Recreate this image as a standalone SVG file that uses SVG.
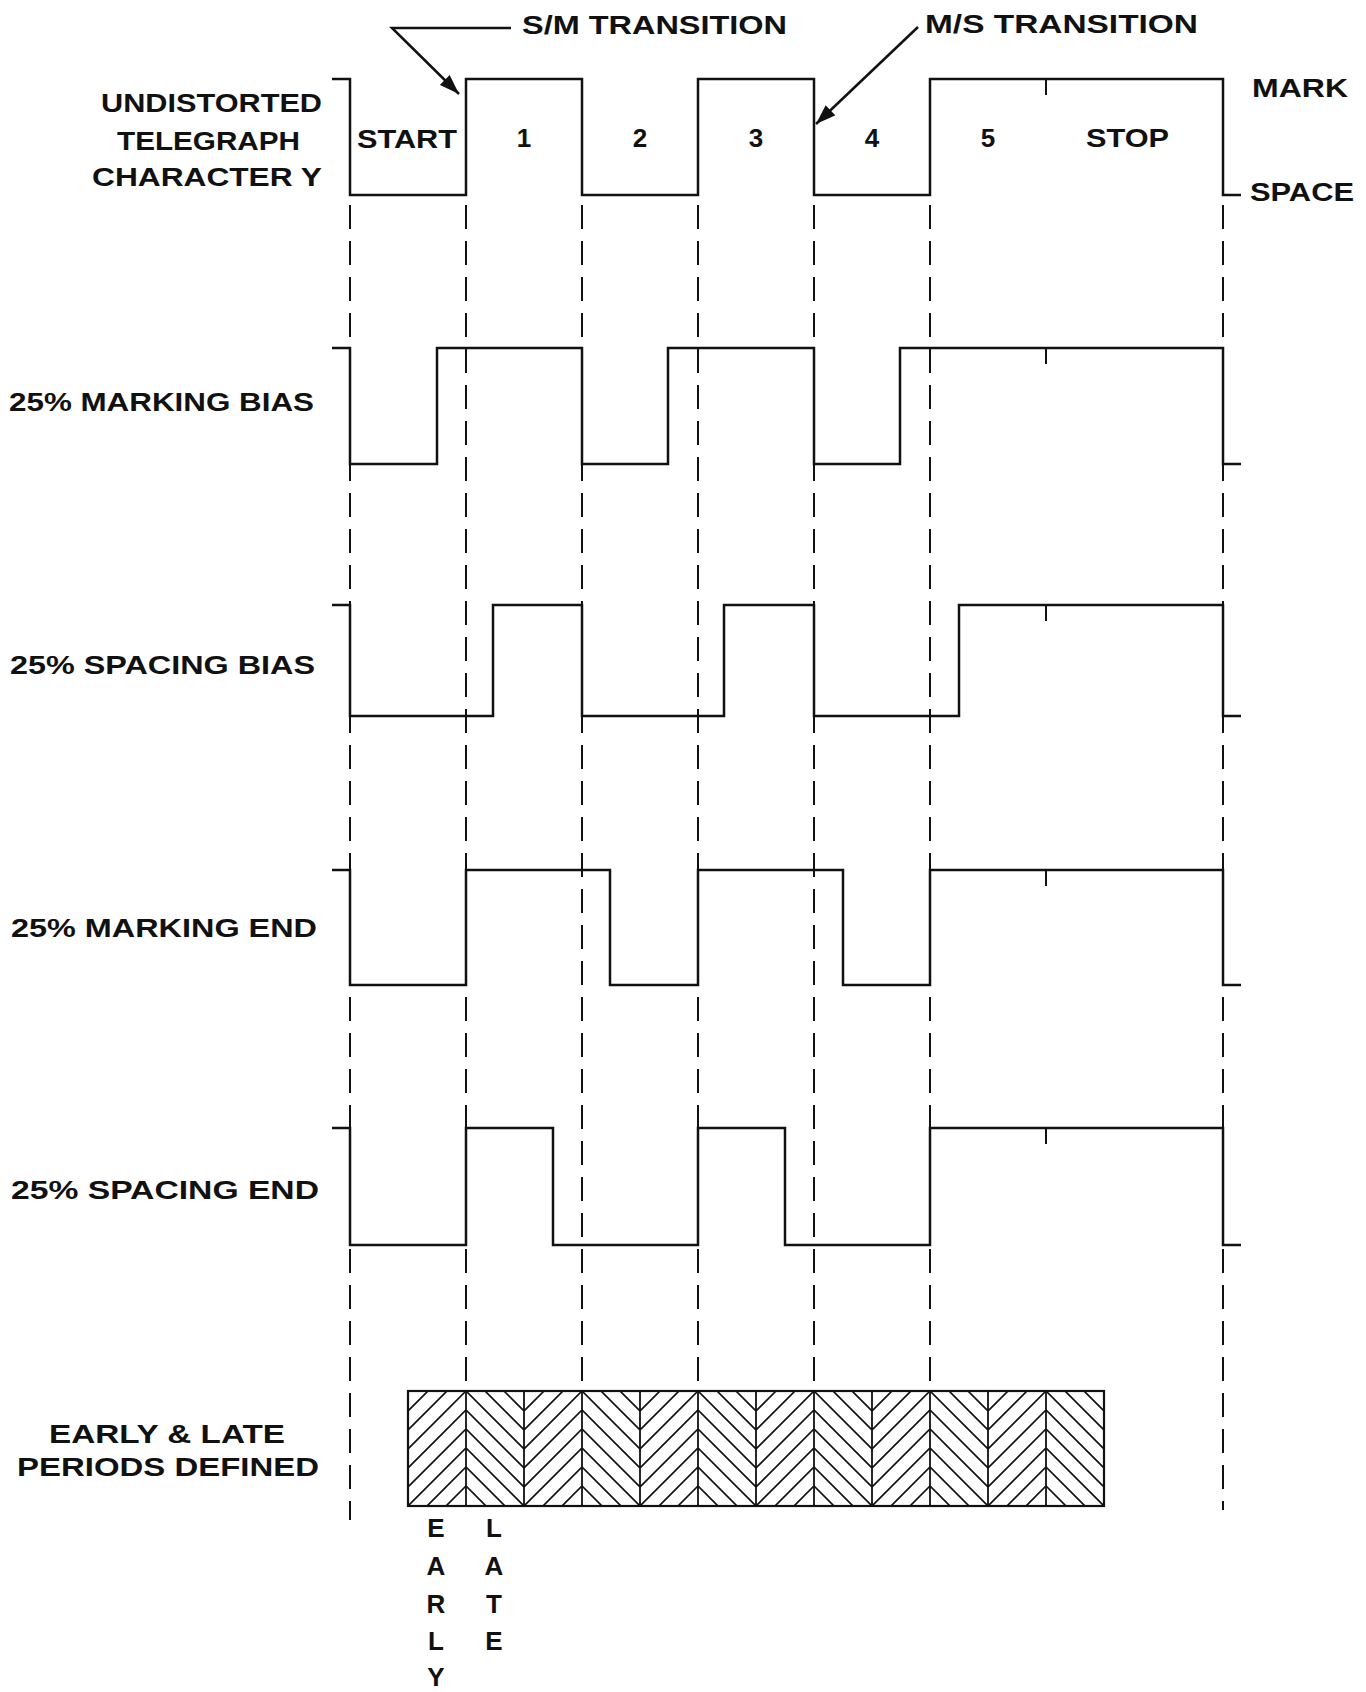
<svg xmlns="http://www.w3.org/2000/svg" width="1366" height="1692" viewBox="0 0 1366 1692">
<style>
.lbl{font-family:"Liberation Sans",Arial,sans-serif;font-weight:bold;font-size:26px;fill:#111}
.top{font-size:25px}
.mid{text-anchor:middle}
.wave{fill:none;stroke:#111;stroke-width:2.5;stroke-linejoin:miter}
.dash{fill:none;stroke:#111;stroke-width:2;stroke-dasharray:24 12}
.tick{fill:none;stroke:#111;stroke-width:2}
.conn{fill:none;stroke:#111;stroke-width:2.5}
.box{stroke:#111;stroke-width:2.2}
.bar{fill:none;stroke:#111;stroke-width:1.8}
</style>
<defs>
<marker id="ah" viewBox="0 0 20 14" refX="20" refY="7" markerWidth="20" markerHeight="14" markerUnits="userSpaceOnUse" orient="auto">
<path d="M0,0 L20,7 L0,14 z" fill="#111"/>
</marker>
<pattern id="herring" patternUnits="userSpaceOnUse" x="408" y="1391" width="116" height="19">
<path d="M0,1 L58,-57 M0,20 L58,-38 M0,39 L58,-19 M0,58 L58,0 M0,77 L58,19 M116,1 L58,-57 M116,20 L58,-38 M116,39 L58,-19 M116,58 L58,0 M116,77 L58,19" fill="none" stroke="#111" stroke-width="1.7"/>
</pattern>
</defs>
<rect width="1366" height="1692" fill="#fff"/>

<g id="labels-left">
<text class="lbl" x="101" y="112" textLength="221" lengthAdjust="spacingAndGlyphs">UNDISTORTED</text>
<text class="lbl" x="117" y="150" textLength="183" lengthAdjust="spacingAndGlyphs">TELEGRAPH</text>
<text class="lbl" x="92" y="186" textLength="230" lengthAdjust="spacingAndGlyphs">CHARACTER Y</text>
<text class="lbl" x="9" y="411" textLength="305" lengthAdjust="spacingAndGlyphs">25% MARKING BIAS</text>
<text class="lbl" x="10" y="674" textLength="305" lengthAdjust="spacingAndGlyphs">25% SPACING BIAS</text>
<text class="lbl" x="11" y="937" textLength="306" lengthAdjust="spacingAndGlyphs">25% MARKING END</text>
<text class="lbl" x="11" y="1199" textLength="308" lengthAdjust="spacingAndGlyphs">25% SPACING END</text>
<text class="lbl" x="49" y="1443" textLength="236" lengthAdjust="spacingAndGlyphs">EARLY &amp; LATE</text>
<text class="lbl" x="17" y="1476" textLength="302" lengthAdjust="spacingAndGlyphs">PERIODS DEFINED</text>
</g>

<g id="labels-right">
<text class="lbl" x="1252" y="97" textLength="96" lengthAdjust="spacingAndGlyphs">MARK</text>
<text class="lbl" x="1250" y="201" textLength="104" lengthAdjust="spacingAndGlyphs">SPACE</text>
</g>

<g id="bit-labels">
<text class="lbl" x="357" y="148" textLength="100" lengthAdjust="spacingAndGlyphs">START</text>
<text class="lbl mid" x="524" y="147">1</text>
<text class="lbl mid" x="640" y="147">2</text>
<text class="lbl mid" x="756" y="147">3</text>
<text class="lbl mid" x="872" y="147">4</text>
<text class="lbl mid" x="988" y="147">5</text>
<text class="lbl" x="1086" y="147" textLength="83" lengthAdjust="spacingAndGlyphs">STOP</text>
</g>

<g id="transition-labels">
<text class="lbl top" x="522" y="34" textLength="265" lengthAdjust="spacingAndGlyphs">S/M TRANSITION</text>
<text class="lbl top" x="925" y="33" textLength="273" lengthAdjust="spacingAndGlyphs">M/S TRANSITION</text>
</g>

<g id="gridlines">
<path class="dash" d="M350,205 V1520 M466,205 V1391 M582,205 V1391 M698,205 V1391 M814,205 V1391 M930,205 V1391 M1223,205 V1510"/>
</g>

<g id="wave-undistorted">
<path class="wave" d="M332,79 H350 V195 H466 V79 H582 V195 H698 V79 H814 V195 H930 V79 H1223 V195 H1241"/>
<path class="tick" d="M1046,79 v16"/>
</g>
<g id="wave-marking-bias">
<path class="wave" d="M332,348 H350 V464 H437 V348 H582 V464 H668 V348 H814 V464 H900 V348 H1223 V464 H1241"/>
<path class="tick" d="M1046,348 v16"/>
</g>
<g id="wave-spacing-bias">
<path class="wave" d="M332,605 H350 V716 H493 V605 H582 V716 H724 V605 H814 V716 H959 V605 H1223 V716 H1241"/>
<path class="tick" d="M1046,605 v16"/>
</g>
<g id="wave-marking-end">
<path class="wave" d="M332,870 H350 V985 H466 V870 H610 V985 H698 V870 H843 V985 H930 V870 H1223 V985 H1241"/>
<path class="tick" d="M1046,870 v16"/>
</g>
<g id="wave-spacing-end">
<path class="wave" d="M332,1128 H350 V1245 H466 V1128 H553 V1245 H698 V1128 H785 V1245 H930 V1128 H1223 V1245 H1241"/>
<path class="tick" d="M1046,1128 v16"/>
</g>

<g id="early-late-box">
<rect class="box" x="408" y="1391" width="696" height="115" fill="url(#herring)"/>
<path class="bar" d="M466,1391 V1506 M524,1391 V1506 M582,1391 V1506 M640,1391 V1506 M698,1391 V1506 M756,1391 V1506 M814,1391 V1506 M872,1391 V1506 M930,1391 V1506 M988,1391 V1506 M1046,1391 V1506"/>
</g>

<g id="early-label">
<text class="lbl mid" x="436" y="1537">E</text>
<text class="lbl mid" x="436" y="1575">A</text>
<text class="lbl mid" x="436" y="1613">R</text>
<text class="lbl mid" x="436" y="1650">L</text>
<text class="lbl mid" x="436" y="1686">Y</text>
</g>
<g id="late-label">
<text class="lbl mid" x="494" y="1537">L</text>
<text class="lbl mid" x="494" y="1575">A</text>
<text class="lbl mid" x="494" y="1613">T</text>
<text class="lbl mid" x="494" y="1650">E</text>
</g>

<g id="connectors">
<path class="conn" d="M511,28 H392 L459,94" marker-end="url(#ah)"/>
<path class="conn" d="M918,27 L816,124" marker-end="url(#ah)"/>
</g>
</svg>
